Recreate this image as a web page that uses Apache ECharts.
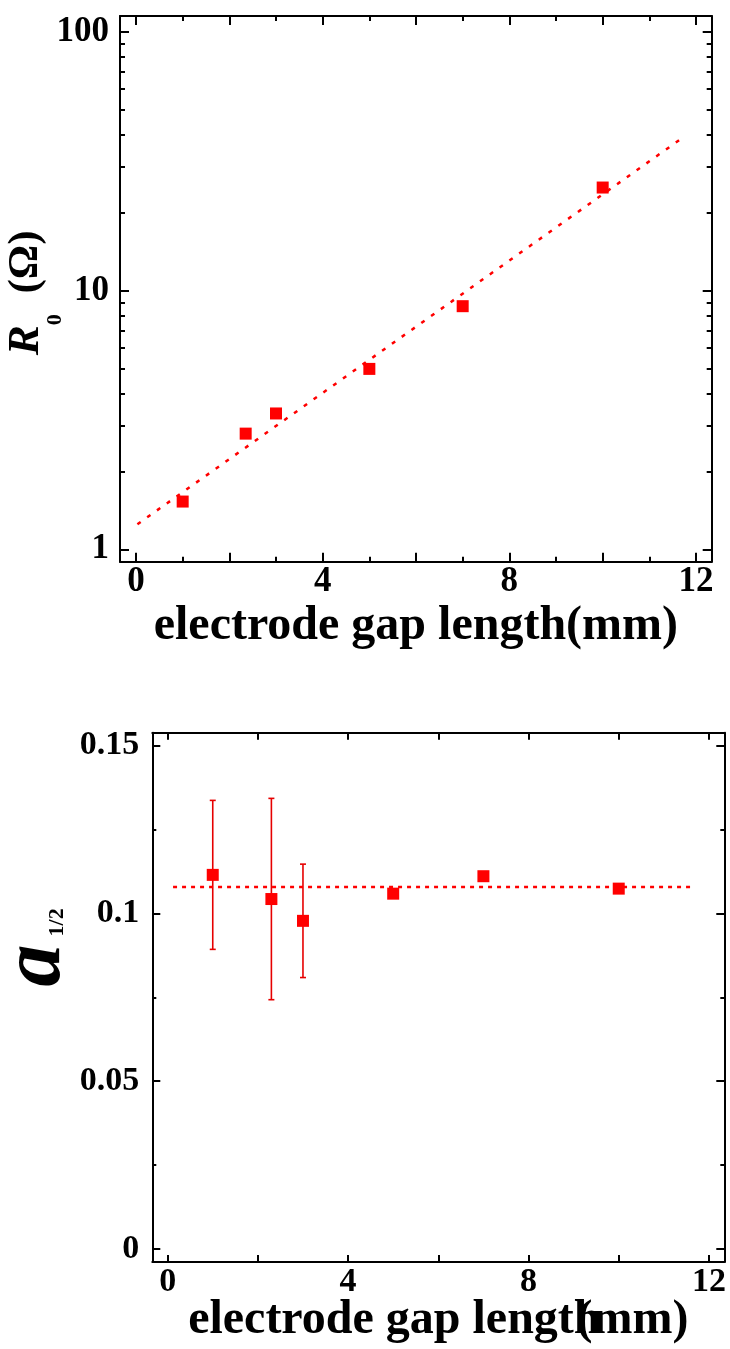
<!DOCTYPE html>
<html><head><meta charset="utf-8">
<script src="https://cdn.jsdelivr.net/npm/echarts@6/dist/echarts.min.js"></script>
<style>html,body{margin:0;padding:0;background:#fff}#c{width:730px;height:1349px}</style>
</head><body><div id="c"></div>
<script>
// ---- data (top panel: R0 vs gap) ----
const gapTop = [1, 2.35, 3, 5, 7, 10];
const r0 = [1.53, 2.8, 3.35, 4.98, 8.7, 25];
const r0FitX = [0.03, 11.7];
const r0FitY = [1.25, 38.8];
// ---- data (bottom panel: a1/2 vs gap) ----
const gapBottom = [1, 2.3, 3, 5, 7, 10];
const a12 = [0.1115, 0.1043, 0.0978, 0.1059, 0.1111, 0.1074];
const a12Err = [0.0222, 0.030, 0.0169, 0, 0, 0];
const a12FitX = [0.12, 11.67];
const a12FitY = [0.1079, 0.1079];
// ---- ticks / labels ----
const xMajorTop = [0, 2, 4, 6, 8, 10, 12];
const xMinorTop = [1, 3, 5, 7, 9, 11];
const xLabelVals = [0, 4, 8, 12];
const yMajorTop = [1, 10, 100];
const yMinorTop = [2, 3, 4, 5, 6, 7, 8, 9, 20, 30, 40, 50, 60, 70, 80, 90];
const xTicksBottom = [0, 2, 4, 6, 8, 10, 12];
const yMajorBottom = [0, 0.05, 0.1, 0.15];
const yMinorBottom = [0.025, 0.075, 0.125];
const xTitle = 'electrode gap length(mm)';

const FONT = 'Liberation Serif';
const RED = '#ff0000';
const chart = echarts.init(document.getElementById('c'), null, {renderer: 'canvas'});

function axis(kind, o) {
  const a = {
    type: o.type || 'value', gridIndex: o.grid, position: o.pos,
    min: o.min, max: o.max, splitLine: {show: false},
    nameMoveOverlap: false,
    axisLine: {show: !!o.line, onZero: false, lineStyle: {color: '#000', width: 2}},
    axisTick: {show: true, inside: true, length: o.len, customValues: o.ticks,
      lineStyle: {color: '#000', width: 2}},
    axisLabel: o.labels ? {show: true, customValues: o.labels, margin: o.margin,
      color: '#000', fontFamily: FONT, fontWeight: 'bold', fontSize: o.fs} : {show: false},
    minorTick: {show: false}, minorSplitLine: {show: false}
  };
  if (o.type === 'log') a.logBase = 10;
  if (o.name) Object.assign(a, o.name);
  return a;
}

const tX = {min: -0.343, max: 12.336};
const tY = {type: 'log', min: 0.896, max: 115};
const bX = {min: -0.34, max: 12.34};
const bY = {min: -0.00387, max: 0.15387};

const xAxes = [
  axis('x', Object.assign({grid: 0, pos: 'bottom', line: true, ticks: xMajorTop, len: 9, labels: xLabelVals, margin: 3, fs: 35,
    name: {name: xTitle, nameLocation: 'middle', nameGap: 41,
      nameTextStyle: {fontFamily: FONT, fontWeight: 'bold', fontSize: 48, color: '#000'}}}, tX)),
  axis('x', Object.assign({grid: 0, pos: 'bottom', ticks: xMinorTop, len: 5}, tX)),
  axis('x', Object.assign({grid: 0, pos: 'top', line: true, ticks: xMajorTop, len: 9}, tX)),
  axis('x', Object.assign({grid: 0, pos: 'top', ticks: xMinorTop, len: 5}, tX)),
  axis('x', Object.assign({grid: 1, pos: 'bottom', line: true, ticks: xTicksBottom, len: 7, labels: xLabelVals, margin: 3, fs: 34,
    name: {name: '{a|electrode gap length}{b|(mm)}', nameLocation: 'middle', nameGap: 35,
      nameTextStyle: {fontFamily: FONT, fontWeight: 'bold', fontSize: 48, color: '#000',
        rich: {a: {fontFamily: FONT, fontWeight: 'bold', fontSize: 48, color: '#000'},
               b: {fontFamily: FONT, fontWeight: 'bold', fontSize: 48, color: '#000', padding: [0, 0, 0, -24]}}}}}, bX)),
  axis('x', Object.assign({grid: 1, pos: 'top', line: true, ticks: xTicksBottom, len: 7}, bX))
];

const yAxes = [
  axis('y', Object.assign({grid: 0, pos: 'left', line: true, ticks: yMajorTop, len: 9, labels: yMajorTop, margin: 11, fs: 35,
    name: {name: '{r|R}{s|0}{p| (Ω)}', nameLocation: 'middle', nameGap: 54, nameRotate: 90,
      nameTextStyle: {padding: [0, 8, 0, 0], rich: {
        r: {fontFamily: FONT, fontWeight: 'bold', fontStyle: 'italic', fontSize: 45, color: '#000', lineHeight: 80, verticalAlign: 'middle'},
        s: {fontFamily: FONT, fontWeight: 'bold', fontSize: 22, color: '#000', lineHeight: 19, verticalAlign: 'bottom'},
        p: {fontFamily: FONT, fontWeight: 'bold', fontSize: 43, color: '#000', lineHeight: 80, verticalAlign: 'middle', padding: [0, 0, 0, 10]}}}}}, tY)),
  axis('y', Object.assign({grid: 0, pos: 'left', ticks: yMinorTop, len: 5}, tY)),
  axis('y', Object.assign({grid: 0, pos: 'right', line: true, ticks: yMajorTop, len: 9}, tY)),
  axis('y', Object.assign({grid: 0, pos: 'right', ticks: yMinorTop, len: 5}, tY)),
  axis('y', Object.assign({grid: 1, pos: 'left', line: true, ticks: yMajorBottom, len: 8, labels: yMajorBottom, margin: 13, fs: 34,
    name: {name: '{a|a}{s|1/2}', nameLocation: 'middle', nameGap: 75, nameRotate: 90,
      nameTextStyle: {padding: [0, 0, 0, 100], rich: {
        a: {fontFamily: FONT, fontWeight: 'bold', fontStyle: 'italic', fontSize: 84, color: '#000', lineHeight: 80, verticalAlign: 'middle'},
        s: {fontFamily: FONT, fontWeight: 'bold', fontSize: 22, color: '#000', verticalAlign: 'bottom', padding: [0, 0, 9, 8]}}}}}, bY)),
  axis('y', Object.assign({grid: 1, pos: 'left', ticks: yMinorBottom, len: 4}, bY)),
  axis('y', Object.assign({grid: 1, pos: 'right', line: true, ticks: yMajorBottom, len: 8}, bY)),
  axis('y', Object.assign({grid: 1, pos: 'right', ticks: yMinorBottom, len: 4}, bY))
];

const topPts = gapTop.map((g, i) => [g, r0[i]]);
const topFit = r0FitX.map((g, i) => [g, r0FitY[i]]);
const botPts = gapBottom.map((g, i) => [g, a12[i]]);
const botFit = a12FitX.map((g, i) => [g, a12FitY[i]]);
const botErr = gapBottom.map((g, i) => [g, a12[i] - a12Err[i], a12[i] + a12Err[i], a12Err[i]]).filter(d => d[3] > 0);

chart.setOption({
  animation: false,
  backgroundColor: '#fff',
  grid: [
    {left: 120, top: 16, width: 591.7, height: 545.7, containLabel: false, outerBoundsMode: 'none'},
    {left: 152.3, top: 732.7, width: 572, height: 529.3, containLabel: false, outerBoundsMode: 'none'}
  ],
  xAxis: xAxes,
  yAxis: yAxes,
  series: [
    {type: 'line', xAxisIndex: 0, yAxisIndex: 0, data: topFit, symbol: 'none',
      lineStyle: {color: RED, width: 2.5, type: [4, 8]}, z: 2},
    {type: 'scatter', xAxisIndex: 0, yAxisIndex: 0, data: topPts, symbol: 'rect', symbolSize: 12,
      itemStyle: {color: RED, opacity: 1}, z: 3},
    {type: 'line', xAxisIndex: 4, yAxisIndex: 4, data: botFit, symbol: 'none',
      lineStyle: {color: RED, width: 2.5, type: [4, 5]}, z: 2},
    {type: 'custom', xAxisIndex: 4, yAxisIndex: 4, data: botErr, encode: {x: 0, y: [1, 2]}, z: 2,
      renderItem: function (params, api) {
        const x = api.value(0);
        const p1 = api.coord([x, api.value(1)]);
        const p2 = api.coord([x, api.value(2)]);
        const w = 3;
        const st = {stroke: '#e60000', lineWidth: 1.6};
        return {type: 'group', children: [
          {type: 'line', shape: {x1: p1[0], y1: p1[1], x2: p2[0], y2: p2[1]}, style: st},
          {type: 'line', shape: {x1: p1[0] - w, y1: p1[1], x2: p1[0] + w, y2: p1[1]}, style: st},
          {type: 'line', shape: {x1: p2[0] - w, y1: p2[1], x2: p2[0] + w, y2: p2[1]}, style: st}
        ]};
      }},
    {type: 'scatter', xAxisIndex: 4, yAxisIndex: 4, data: botPts, symbol: 'rect', symbolSize: 12,
      itemStyle: {color: RED, opacity: 1}, z: 3}
  ]
});
</script></body></html>
